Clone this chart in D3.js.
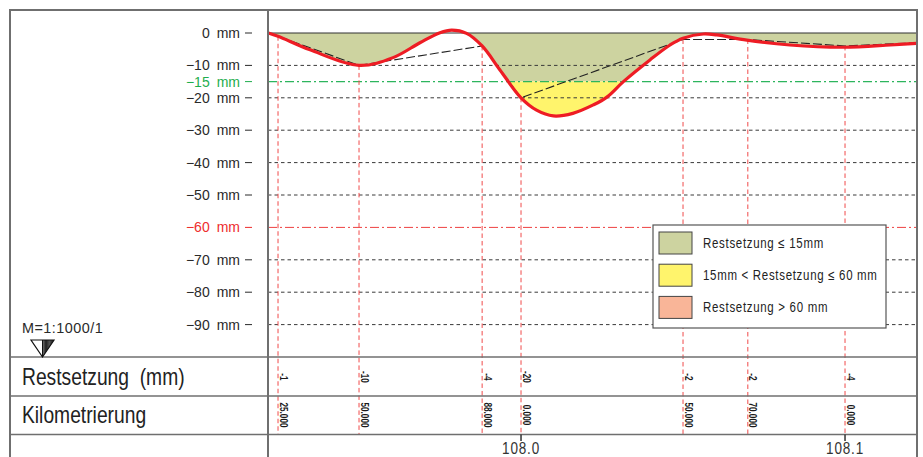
<!DOCTYPE html>
<html>
<head>
<meta charset="utf-8">
<script src="https://cdn.jsdelivr.net/npm/d3@7"></script>
<style>
  body { margin: 0; background: #fff; }
  svg { display: block; }
</style>
</head>
<body>
<svg id="chart" width="923" height="457"></svg>
<script>
// Measured stations (km) and residual settlement (mm)
const stationKm = [107.925, 107.950, 107.988, 108.000, 108.050, 108.070, 108.100];
const settlement = [-1, -10, -4, -20, -2, -2, -4];
const settlementLabels = ["-1", "-10", "-4", "-20", "-2", "-2", "-4"];
const stationLabels = ["25.000", "50.000", "88.000", "0.000", "50.000", "70.000", "0.000"];

// Smoothed settlement trough along the section (km, mm)
const curveKm = [107.9220, 107.9250, 107.9349, 107.9500, 107.9605, 107.9688, 107.9750, 107.9786,
                 107.9832, 107.9880, 107.9935, 108.0000, 108.0048, 108.0100, 108.0160, 108.0223,
                 108.0265, 108.0316, 108.0398, 108.0460, 108.0500, 108.0563, 108.0604, 108.0697,
                 108.0830, 108.0995, 108.1140, 108.1220];
const curveMm = [0, -1, -5.2, -10, -7.6, -3.0, 0.1, 0.9,
                 -0.1, -4, -11.4, -20, -23.8, -25.6, -24.8, -22.2,
                 -19.8, -15, -8.3, -3.7, -1.6, -0.3, -0.6, -2.2,
                 -3.7, -4.4, -3.7, -3.2];

// Straight polygon through the measured points, with the section ends
const polyKm = [107.922, ...stationKm, 108.122];
const polyMm = [0, ...settlement, -3];

const yTicks = [0, -10, -20, -30, -40, -50, -60, -70, -80, -90];
const limitLow = -15;
const limitHigh = -60;
const kmTicks = [108.0, 108.1];
const kmTickLabels = ["108.0", "108.1"];
const legendLabels = ["Restsetzung \u2264 15mm", "15mm < Restsetzung \u2264 60 mm", "Restsetzung > 60 mm"];
const legendColors = ["#cdd3a0", "#fff46c", "#f9b598"];

const svg = d3.select("#chart");
const H = 457;

const plotLeft = 268, plotRight = 917, frameTop = 10, frameLeft = 10;
const rowTop = 357, rowMid = 396, rowBottom = 434.5;

const x = d3.scaleLinear().domain([107.922, 108.122]).range([268.3, 916.3]);
const y = d3.scaleLinear().domain([0, -90]).range([33, 324.6]);

const sans = "'Liberation Sans', Arial, sans-serif";
const NARROW = 0.82;   // horizontal squeeze for the condensed lettering

// Condensed text placed at (px, py), optionally rotated
function narrowText(parent, px, py, str, opts = {}) {
  const rot = opts.rotate ? ` rotate(${opts.rotate})` : "";
  const t = parent.append("text")
    .attr("transform", `translate(${px},${py})${rot} scale(${opts.squeeze || NARROW},1)`)
    .attr("font-family", sans)
    .attr("font-size", opts.size || 14)
    .attr("fill", opts.fill || "#222")
    .attr("text-anchor", opts.anchor || "start")
    .text(str);
  if (opts.spacing) t.attr("letter-spacing", opts.spacing);
  if (opts.weight) t.attr("font-weight", opts.weight);
  return t;
}

const defs = svg.append("defs");
function clipRect(id, y0, y1) {
  defs.append("clipPath").attr("id", id)
    .append("rect")
    .attr("x", plotLeft).attr("width", plotRight - plotLeft)
    .attr("y", y0).attr("height", y1 - y0);
}
clipRect("clip-green", y(0), y(limitLow));
clipRect("clip-yellow", y(limitLow), y(limitHigh));
clipRect("clip-red", y(limitHigh), rowTop);

const curvePts = curveKm.map((k, i) => [k, curveMm[i]]);
const smooth = d3.curveCatmullRom.alpha(0.5);

const area = d3.area()
  .x(d => x(d[0]))
  .y0(y(0))
  .y1(d => y(d[1]))
  .curve(smooth);

// Settlement class fills
[["clip-green", legendColors[0]], ["clip-yellow", legendColors[1]], ["clip-red", legendColors[2]]]
  .forEach(([clip, col]) => {
    svg.append("path")
      .datum(curvePts)
      .attr("clip-path", `url(#${clip})`)
      .attr("d", area)
      .attr("fill", col);
  });

// Horizontal grid
const grid = svg.append("g");
yTicks.filter(t => t !== 0 && t !== limitHigh).forEach(t => {
  grid.append("line")
    .attr("x1", plotLeft).attr("x2", plotRight)
    .attr("y1", y(t)).attr("y2", y(t))
    .attr("stroke", "#3a3a3a").attr("stroke-width", 1)
    .attr("stroke-dasharray", "3.5,3");
});
// Limit lines
grid.append("line")
  .attr("x1", plotLeft).attr("x2", plotRight)
  .attr("y1", y(limitLow)).attr("y2", y(limitLow))
  .attr("stroke", "#2db55d").attr("stroke-width", 1.2)
  .attr("stroke-dasharray", "9,3,2,3");
grid.append("line")
  .attr("x1", plotLeft).attr("x2", plotRight)
  .attr("y1", y(limitHigh)).attr("y2", y(limitHigh))
  .attr("stroke", "#ee4040").attr("stroke-width", 1)
  .attr("stroke-dasharray", "9,3,2,3");
// Zero line
grid.append("line")
  .attr("x1", plotLeft).attr("x2", plotRight)
  .attr("y1", y(0)).attr("y2", y(0))
  .attr("stroke", "#333").attr("stroke-width", 1.2);

// Station verticals from measured point down through the table
svg.append("g").selectAll("line")
  .data(stationKm)
  .join("line")
  .attr("x1", d => x(d)).attr("x2", d => x(d))
  .attr("y1", (d, i) => y(settlement[i])).attr("y2", rowBottom)
  .attr("stroke", "#f04a4a").attr("stroke-width", 1)
  .attr("stroke-dasharray", "4.5,3");

// Polygon through measured points
svg.append("path")
  .datum(polyKm.map((k, i) => [k, polyMm[i]]))
  .attr("d", d3.line().x(d => x(d[0])).y(d => y(d[1])))
  .attr("fill", "none")
  .attr("stroke", "#222").attr("stroke-width", 1.1)
  .attr("stroke-dasharray", "9,3");

// Settlement trough
svg.append("path")
  .datum(curvePts)
  .attr("d", d3.line().x(d => x(d[0])).y(d => y(d[1])).curve(smooth))
  .attr("fill", "none")
  .attr("stroke", "#ee1c24").attr("stroke-width", 3.2)
  .attr("stroke-linejoin", "round");

// Y axis labels
const yLab = svg.append("g");
yTicks.concat([limitLow]).forEach(t => {
  const col = t === limitLow ? "#1fae4e" : (t === limitHigh ? "#ee2d2d" : "#2a2a2a");
  const txt = (t === 0 ? "0" : "\u2212" + Math.abs(t)) + "\u2002mm";
  yLab.append("text")
    .attr("x", 240).attr("y", y(t)).attr("dy", "0.36em")
    .attr("text-anchor", "end")
    .attr("font-family", sans).attr("font-size", 14)
    .attr("fill", col)
    .text(txt);
  yLab.append("line")
    .attr("x1", 245).attr("x2", 252)
    .attr("y1", y(t)).attr("y2", y(t))
    .attr("stroke", col).attr("stroke-width", 1);
});

// Legend
const lg = svg.append("g");
lg.append("rect")
  .attr("x", 653).attr("y", 225).attr("width", 233).attr("height", 103)
  .attr("fill", "#fff").attr("stroke", "#555").attr("stroke-width", 1.2);
legendLabels.forEach((lab, i) => {
  const cy = 243 + i * 32.2;
  lg.append("rect")
    .attr("x", 659).attr("y", cy - 11).attr("width", 33).attr("height", 22)
    .attr("fill", legendColors[i]).attr("stroke", "#444").attr("stroke-width", 1);
  narrowText(lg, 703, cy + 5, lab, { size: 14, spacing: 0.85 });
});

// Frame and table rules
const fr = svg.append("g").attr("stroke", "#6f6f6f").attr("fill", "none");
fr.append("line").attr("x1", frameLeft).attr("x2", frameLeft).attr("y1", frameTop).attr("y2", H).attr("stroke-width", 2);
fr.append("line").attr("x1", plotRight).attr("x2", plotRight).attr("y1", frameTop).attr("y2", H).attr("stroke-width", 2);
fr.append("line").attr("x1", frameLeft - 1).attr("x2", plotRight + 1).attr("y1", frameTop).attr("y2", frameTop).attr("stroke-width", 2);
fr.append("line").attr("x1", plotLeft).attr("x2", plotLeft).attr("y1", frameTop).attr("y2", H).attr("stroke-width", 2);
[rowTop, rowMid, rowBottom].forEach(r => {
  fr.append("line").attr("x1", frameLeft).attr("x2", plotRight).attr("y1", r).attr("y2", r).attr("stroke-width", 1.6);
});

// Row captions
narrowText(svg, 22, 385, "Restsetzung\u00a0\u00a0(mm)", { size: 23.5 });
narrowText(svg, 22, 423, "Kilometrierung", { size: 23.5 });

// Values in the table, rotated along the station lines
const tbl = svg.append("g");
stationKm.forEach((k, i) => {
  const px = x(k) + 1.5;
  narrowText(tbl, px, 377, settlementLabels[i], { size: 10, rotate: 90, anchor: "middle", weight: "bold", fill: "#1a1a1a" });
  narrowText(tbl, px, 415, stationLabels[i], { size: 10, rotate: 90, anchor: "middle", weight: "bold", fill: "#1a1a1a" });
});

// Kilometre ticks
kmTicks.forEach((k, i) => {
  svg.append("line")
    .attr("x1", x(k)).attr("x2", x(k))
    .attr("y1", rowBottom).attr("y2", 441)
    .attr("stroke", "#333").attr("stroke-width", 1.5);
  narrowText(svg, x(k), 453.5, kmTickLabels[i], { size: 16.5, anchor: "middle", spacing: 1, fill: "#333" });
});

// Scale note and symbol
narrowText(svg, 22, 333, "M=1:1000/1", { size: 15.5, squeeze: 0.93, spacing: 0.5, fill: "#2a2a2a" });
const grad = defs.append("linearGradient").attr("id", "tri-grad").attr("x1", 0).attr("x2", 1);
grad.append("stop").attr("offset", "0%").attr("stop-color", "#777");
grad.append("stop").attr("offset", "30%").attr("stop-color", "#222");
grad.append("stop").attr("offset", "60%").attr("stop-color", "#555");
grad.append("stop").attr("offset", "100%").attr("stop-color", "#111");
svg.append("polygon")
  .attr("points", "42.5,340 54,340 42.5,357")
  .attr("fill", "url(#tri-grad)");
svg.append("polygon")
  .attr("points", "31,340 54,340 42.5,357")
  .attr("fill", "none").attr("stroke", "#111").attr("stroke-width", 1.2);
svg.append("line")
  .attr("x1", 42.5).attr("x2", 42.5).attr("y1", 340).attr("y2", 357)
  .attr("stroke", "#111").attr("stroke-width", 1);
</script>
</body>
</html>
